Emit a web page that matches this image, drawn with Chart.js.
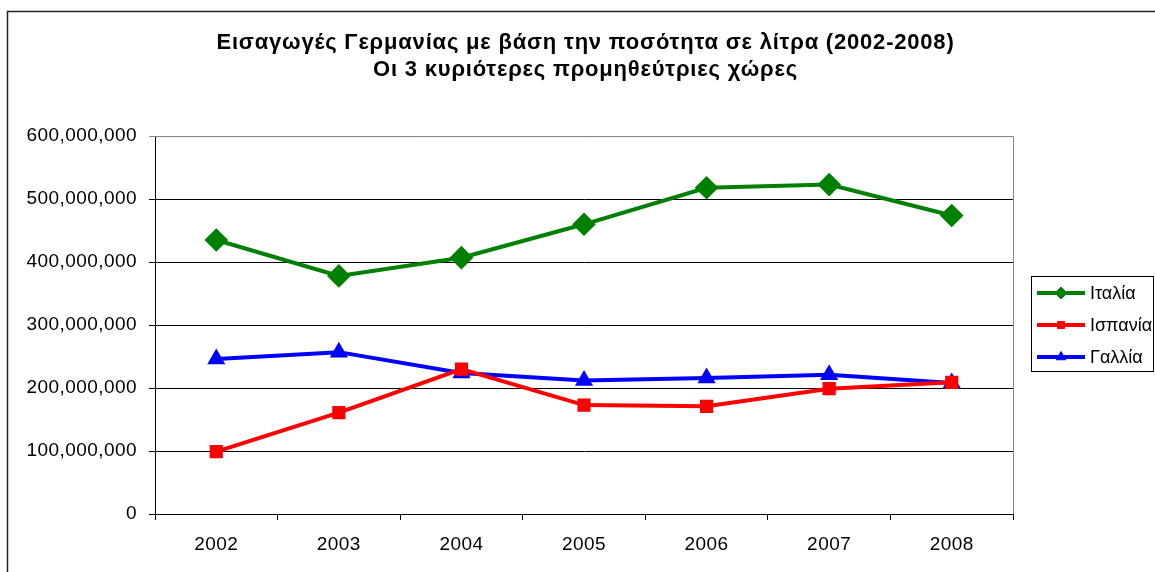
<!DOCTYPE html>
<html>
<head>
<meta charset="utf-8">
<script src="https://cdn.jsdelivr.net/npm/chart.js@4.4.1/dist/chart.umd.min.js"></script>
<style>
html,body{margin:0;padding:0;background:#fff;}
#wrap{width:1155px;height:572px;}
</style>
</head>
<body>
<div id="wrap"><canvas id="chart" width="1155" height="572"></canvas></div>
<script>
// data (litres)
const years = ["2002","2003","2004","2005","2006","2007","2008"];
const italy = [435000000,378000000,407000000,460000000,518000000,523000000,474000000];
const spain = [99000000,161000000,230000000,173000000,171000000,199000000,209000000];
const france = [246000000,257000000,224000000,212000000,216000000,221000000,208000000];
const seriesNames = ["Ιταλία","Ισπανία","Γαλλία"];
const titleLines = ["Εισαγωγές Γερμανίας με βάση την ποσότητα σε λίτρα (2002-2008)","Οι 3 κυριότερες προμηθεύτριες χώρες"];
const yMax = 600000000;
const yStep = 100000000;

const FONT = "'Liberation Sans', Arial, sans-serif";
Chart.defaults.font.family = FONT;
Chart.defaults.color = "#000";

// outer frame + plot area border, plus the wider letter spacing of the original
const framePlugin = {
  id:"frame",
  beforeDraw(chart){
    const ctx = chart.ctx;
    ctx.save();
    ctx.fillStyle = "#fff";
    ctx.fillRect(0,0,chart.width,chart.height);
    ctx.strokeStyle = "#222";
    ctx.lineWidth = 1.5;
    ctx.strokeRect(7.5,11.5,1300,700);
    ctx.restore();
    ctx.letterSpacing = "0.8px";   // title
  },
  beforeDatasetsDraw(chart){
    const a = chart.chartArea, ctx = chart.ctx;
    ctx.save();
    ctx.strokeStyle = "#888";
    ctx.lineWidth = 1;
    ctx.beginPath();
    ctx.moveTo(a.left, a.top+0.5);
    ctx.lineTo(Math.round(a.right)+0.5, a.top+0.5);
    ctx.lineTo(Math.round(a.right)+0.5, a.bottom);
    ctx.stroke();
    ctx.restore();
  },
  afterDatasetsDraw(chart){
    chart.ctx.letterSpacing = "0.45px";  // tick labels (drawn on z:1)
  }
};

// boxed legend on the right, like the original
const legendPlugin = {
  id:"boxLegend",
  afterDraw(chart){
    const ctx = chart.ctx;
    ctx.save();
    ctx.letterSpacing = "0px";
    ctx.strokeStyle = "#000";
    ctx.lineWidth = 1;
    ctx.strokeRect(1031.5,276.5,122,95);
    chart.data.datasets.forEach((ds,i)=>{
      const y = 293 + i*32;
      ctx.strokeStyle = ds.borderColor;
      ctx.lineWidth = 4;
      ctx.beginPath(); ctx.moveTo(1037,y); ctx.lineTo(1085,y); ctx.stroke();
      ctx.fillStyle = ds.borderColor;
      ctx.lineWidth = 1;
      Chart.helpers.drawPoint(ctx,{pointStyle:ds.pointStyle, radius:ds.legendRadius, rotation:0, borderWidth:1},1061,y);
      ctx.fillStyle = "#000";
      ctx.font = "18px " + FONT;
      ctx.textBaseline = "middle";
      ctx.textAlign = "left";
      ctx.fillText(ds.label,1090,y+1);
    });
    ctx.restore();
    ctx.letterSpacing = "0px";
  }
};

new Chart(document.getElementById("chart"),{
  type:"line",
  data:{
    labels: years,
    datasets:[
      {label:seriesNames[0], data:italy, borderColor:"#008000", backgroundColor:"#008000", pointBackgroundColor:"#008000",
       pointStyle:"rectRot", pointRadius:9, legendRadius:6, borderWidth:4},
      {label:seriesNames[1], data:spain, borderColor:"#ff0000", backgroundColor:"#ff0000", pointBackgroundColor:"#ff0000",
       pointStyle:"rect", pointRadius:6.5, legendRadius:5, borderWidth:4},
      {label:seriesNames[2], data:france, borderColor:"#0000ff", backgroundColor:"#0000ff", pointBackgroundColor:"#0000ff",
       pointStyle:"triangle", pointRadius:6.5, legendRadius:5.5, borderWidth:4}
    ]
  },
  options:{
    responsive:false,
    animation:false,
    layout:{padding:{left:16,right:0,top:0,bottom:0}},
    plugins:{
      legend:{display:false},
      tooltip:{enabled:false},
      title:{
        display:true,
        text:titleLines,
        font:{size:22,weight:"bold",family:FONT,lineHeight:1.23},
        color:"#000",
        padding:{top:29,bottom:53}
      }
    },
    scales:{
      x:{
        offset:true,
        grid:{offset:true,drawOnChartArea:false,color:"#000",tickLength:6},
        border:{color:"#000"},
        ticks:{font:{size:19},padding:13,color:"#000",z:1},
        afterFit(s){ s.height = 58; }
      },
      y:{
        min:0,
        max:yMax,
        ticks:{stepSize:yStep,font:{size:19},padding:12,color:"#000",z:1,
          callback:v=>v.toLocaleString("en-US")},
        grid:{color:c=>c.tick && c.tick.value===yMax ? "#888" : "#000",tickLength:6},
        border:{color:"#000"},
        afterFit(s){ s.width = 139; }
      },
      yRight:{
        position:"right",
        display:true,
        grid:{display:false},
        border:{display:false},
        ticks:{display:false},
        afterFit(s){ s.width = 142; }
      }
    }
  },
  plugins:[framePlugin,legendPlugin]
});
</script>
</body>
</html>
